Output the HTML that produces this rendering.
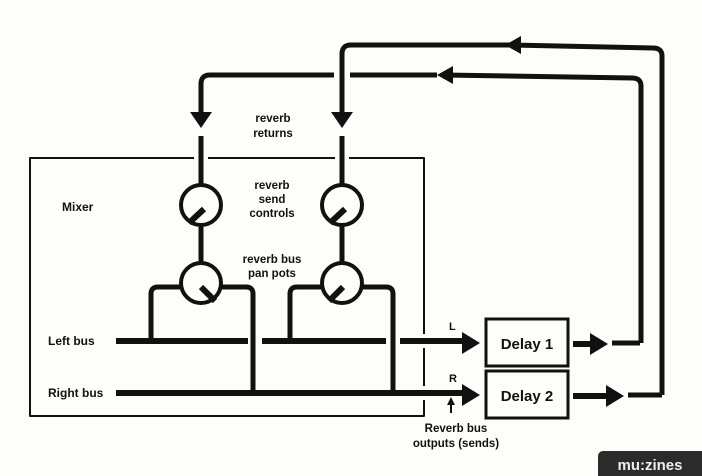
<!DOCTYPE html>
<html><head><style>
html,body{margin:0;padding:0;background:#fdfdfa;}
svg{display:block}
text{font-family:"Liberation Sans",sans-serif;font-weight:bold;fill:#111;}
</style></head><body>
<svg width="702" height="476" viewBox="0 0 702 476" xmlns="http://www.w3.org/2000/svg">
<rect width="702" height="476" fill="#fdfdfa"/>
<g fill="none" stroke="#111" stroke-linejoin="round">
<path d="M30 158 H424 V416 H30 Z" stroke-width="2"/>
</g>
<rect x="194" y="150" width="14" height="14" fill="#fdfdfa"/>
<rect x="335" y="150" width="14" height="14" fill="#fdfdfa"/>
<rect x="418" y="334" width="12" height="14" fill="#fdfdfa"/>
<rect x="418" y="386" width="12" height="14" fill="#fdfdfa"/>
<g fill="none" stroke="#111" stroke-width="5" stroke-linecap="butt" stroke-linejoin="round">
<path d="M640 343 H612 M641 343 Q641 343 641 330 V86 Q641 78 632 78 L443 75"/>
<path d="M437 75 H350 M334 75 H210 Q201 75 201 84 V114"/>
<path d="M662 395 H628 M662 395 Q662 395 662 383 V56 Q662 48 653 48 L511 45"/>
<path d="M511 45 H351 Q342 45 342 54 V114"/>
<path d="M201 136 V185 M201 225 V263 M342 136 V185 M342 225 V263"/>
<circle cx="201" cy="205" r="20" stroke-width="4"/>
<circle cx="201" cy="283" r="20" stroke-width="4"/>
<circle cx="342" cy="205" r="20" stroke-width="4"/>
<circle cx="342" cy="283" r="20" stroke-width="4"/>
<path d="M181 287 H158 Q151 287 151 294 V341"/>
<path d="M221 287 H246 Q253 287 253 294 V393"/>
<path d="M322 287 H297 Q290 287 290 294 V341"/>
<path d="M362 287 H386 Q393 287 393 294 V393"/>
<path d="M116 341 H248 M262 341 H386 M400 341 H466" stroke-width="6"/>
<path d="M116 393 H466" stroke-width="6"/>
<path d="M573 344 H592 M573 396 H607" stroke-width="6"/>
</g>
<g stroke="#111" stroke-width="6" stroke-linecap="butt">
<line x1="204" y1="209" x2="189" y2="223"/>
<line x1="345" y1="209" x2="330" y2="223"/>
<line x1="201" y1="287" x2="215" y2="301"/>
<line x1="343" y1="287" x2="329" y2="301"/>
</g>
<g fill="#111">
<polygon points="190,112 212,112 201,128"/>
<polygon points="331,112 353,112 342,128"/>
<polygon points="505,45 521,36 521,54"/>
<polygon points="437,75 453,66 453,84"/>
<polygon points="480,343 462,332 462,354"/>
<polygon points="480,395 462,384 462,406"/>
<polygon points="608,344 590,333 590,355"/>
<polygon points="624,396 606,385 606,407"/>
<polygon points="451,397 447,405 455,405"/>
</g>
<line x1="451" y1="403" x2="451" y2="413" stroke="#111" stroke-width="2"/>
<rect x="486" y="319" width="82" height="47" fill="none" stroke="#111" stroke-width="3"/>
<rect x="486" y="371" width="82" height="47" fill="none" stroke="#111" stroke-width="3"/>
<text x="527" y="349" font-size="15" text-anchor="middle">Delay 1</text>
<text x="527" y="401" font-size="15" text-anchor="middle">Delay 2</text>
<g font-size="11.5" text-anchor="middle">
<text x="273" y="122">reverb</text>
<text x="273" y="137">returns</text>
<text x="272" y="189">reverb</text>
<text x="272" y="203">send</text>
<text x="272" y="217">controls</text>
<text x="272" y="263">reverb bus</text>
<text x="272" y="277">pan pots</text>
<text x="456" y="432">Reverb bus</text>
<text x="456" y="447">outputs (sends)</text>
</g>
<g font-size="12">
<text x="62" y="211">Mixer</text>
<text x="48" y="345">Left bus</text>
<text x="48" y="397">Right bus</text>
<text x="449" y="330" font-size="11">L</text>
<text x="449" y="382" font-size="11">R</text>
</g>
<rect x="598" y="451" width="110" height="30" rx="5" fill="#2b2b2b"/>
<text x="650" y="470" font-size="15" text-anchor="middle" style="fill:#eee">mu:zines</text>
</svg>
</body></html>
